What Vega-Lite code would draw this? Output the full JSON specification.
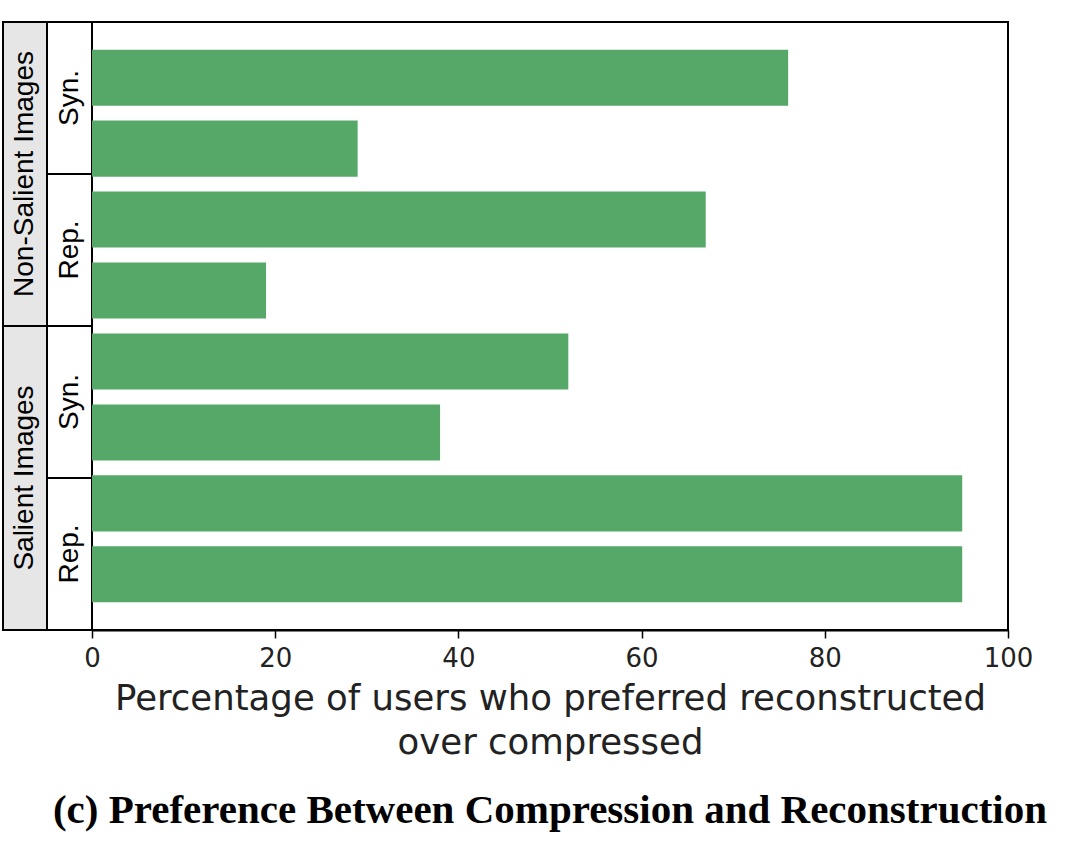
{
  "$schema": "https://vega.github.io/schema/vega-lite/v6.json",
  "padding": {"left": 1, "top": 20, "right": 0, "bottom": 0},
  "background": "white",
  "spacing": 0,
  "bounds": "flush",
  "config": {"view": {"stroke": "black", "strokeWidth": 2}, "concat": {"spacing": 0}},
  "datasets": {
    "groups": [
      {"label": "Non-Salient Images", "start": 0, "end": 2, "mid": 1},
      {"label": "Salient Images", "start": 2, "end": 4, "mid": 3}
    ],
    "types": [
      {"label": "Syn.", "start": 0, "end": 1, "mid": 0.5},
      {"label": "Rep.", "start": 1, "end": 2, "mid": 1.5},
      {"label": "Syn.", "start": 2, "end": 3, "mid": 2.5},
      {"label": "Rep.", "start": 3, "end": 4, "mid": 3.5}
    ],
    "bars": [
      {"id": "1", "group": "Non-Salient Images", "type": "Syn.", "value": 76},
      {"id": "2", "group": "Non-Salient Images", "type": "Syn.", "value": 29},
      {"id": "3", "group": "Non-Salient Images", "type": "Rep.", "value": 67},
      {"id": "4", "group": "Non-Salient Images", "type": "Rep.", "value": 19},
      {"id": "5", "group": "Salient Images", "type": "Syn.", "value": 52},
      {"id": "6", "group": "Salient Images", "type": "Syn.", "value": 38},
      {"id": "7", "group": "Salient Images", "type": "Rep.", "value": 95},
      {"id": "8", "group": "Salient Images", "type": "Rep.", "value": 95}
    ]
  },
  "hconcat": [
    {
      "width": 44,
      "height": 608,
      "data": {"name": "groups"},
      "layer": [
        {
          "mark": {"type": "rect", "fill": "#e6e6e6", "stroke": "black", "strokeWidth": 2},
          "encoding": {
            "y": {"field": "start", "type": "quantitative", "scale": {"domain": [0, 4], "reverse": true, "nice": false, "zero": false}, "axis": null},
            "y2": {"field": "end"}
          }
        },
        {
          "mark": {"type": "text", "angle": 270, "font": "Liberation Sans", "fontSize": 28, "color": "black", "align": "center", "baseline": "middle"},
          "encoding": {
            "y": {"field": "mid", "type": "quantitative", "scale": {"domain": [0, 4], "reverse": true, "nice": false, "zero": false}, "axis": null},
            "text": {"field": "label"}
          }
        }
      ]
    },
    {
      "width": 45,
      "height": 608,
      "data": {"name": "types"},
      "layer": [
        {
          "mark": {"type": "rect", "fill": "white", "stroke": "black", "strokeWidth": 2},
          "encoding": {
            "y": {"field": "start", "type": "quantitative", "scale": {"domain": [0, 4], "reverse": true, "nice": false, "zero": false}, "axis": null},
            "y2": {"field": "end"}
          }
        },
        {
          "mark": {"type": "text", "angle": 270, "font": "Liberation Sans", "fontSize": 28, "color": "black", "align": "center", "baseline": "middle"},
          "encoding": {
            "y": {"field": "mid", "type": "quantitative", "scale": {"domain": [0, 4], "reverse": true, "nice": false, "zero": false}, "axis": null},
            "text": {"field": "label"}
          }
        }
      ]
    },
    {
      "width": 916,
      "height": 608,
      "data": {"name": "bars"},
      "title": {
        "text": "(c) Preference Between Compression and Reconstruction",
        "orient": "bottom",
        "anchor": "middle",
        "font": "Liberation Serif",
        "fontSize": 41,
        "fontWeight": "bold",
        "color": "black",
        "offset": 30
      },
      "mark": {"type": "bar", "color": "#55a868"},
      "encoding": {
        "y": {"field": "id", "type": "nominal", "sort": null, "axis": null, "scale": {"paddingInner": 0.21, "paddingOuter": 0.39}},
        "x": {
          "field": "value",
          "type": "quantitative",
          "scale": {"domain": [0, 100], "nice": false},
          "axis": {
            "values": [0, 20, 40, 60, 80, 100],
            "grid": false,
            "domainColor": "black",
            "domainWidth": 2,
            "tickColor": "black",
            "tickWidth": 1.5,
            "tickSize": 8,
            "labelFont": "DejaVu Sans",
            "labelFontSize": 26,
            "labelColor": "#222222",
            "labelPadding": 7,
            "labelFlush": false,
            "title": ["Percentage of users who preferred reconstructed", "over compressed"],
            "titleFont": "DejaVu Sans",
            "titleFontSize": 35.5,
            "titleFontWeight": "normal",
            "titleColor": "#222222",
            "titleLineHeight": 44,
            "titlePadding": 10
          }
        }
      }
    }
  ]
}
